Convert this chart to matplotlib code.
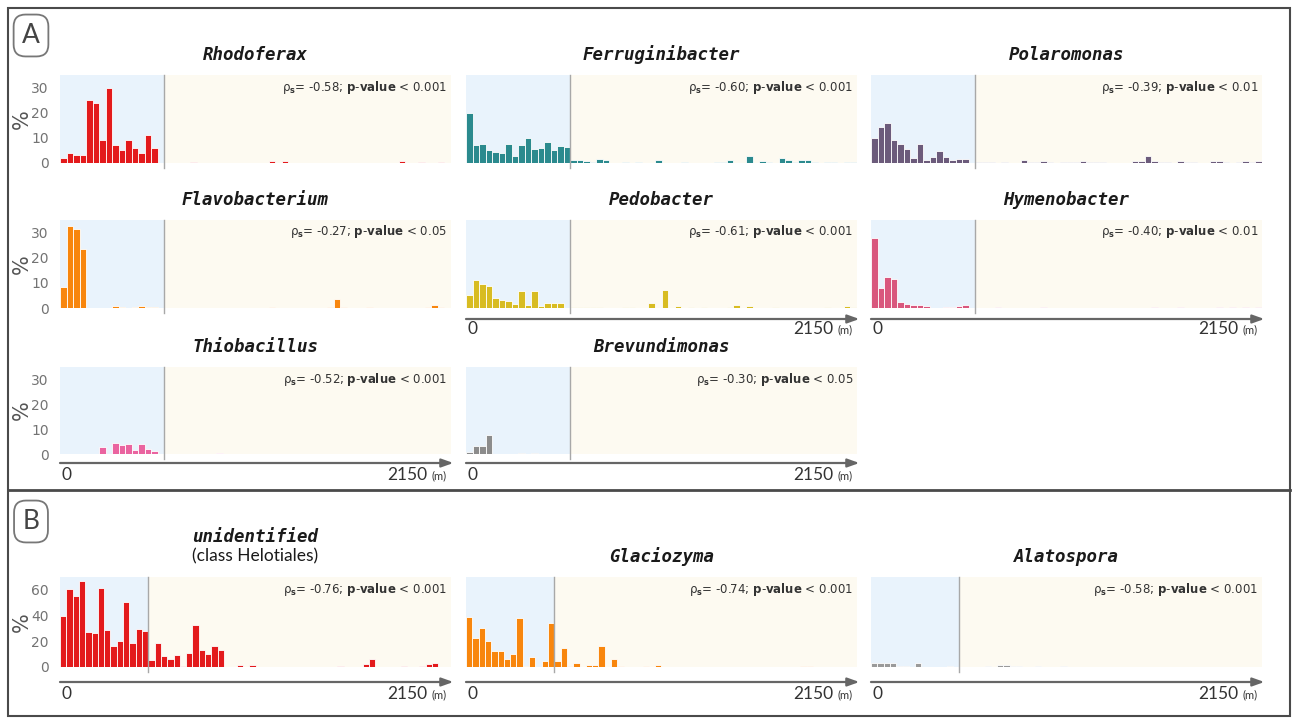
import matplotlib.pyplot as plt
from matplotlib.patches import Rectangle
from matplotlib.lines import Line2D

# relative abundance (%) per sample along the chronosequence, 0 -> 2150 m
rhodoferax = [2, 4, 3, 3, 25, 24, 9, 30, 7, 5,
              9, 6, 4, 11, 6, 0, 0, 0, 0, 0,
              0.3, 0, 0, 0, 0, 0, 0, 0, 0, 0,
              0, 0, 0.8, 0, 0.8, 0, 0, 0, 0, 0,
              0, 0, 0, 0, 0, 0, 0, 0, 0, 0,
              0, 0, 0.6, 0, 0, 0.3, 0, 0, 0.3, 0]
ferruginibacter = [20, 7.1, 7.4, 5.3, 4.2, 4, 7.4, 2.6, 7.1, 9.9,
                   5.5, 5.9, 8.2, 5.1, 6.7, 6.2, 1, 1.2, 0.6, 0.5,
                   1.5, 1, 0, 0, 0.5, 0, 0.5, 0, 0, 1.2,
                   0, 0, 0, 0.3, 0, 0, 0, 0, 0.3, 0.5,
                   1, 0, 0, 2.7, 0, 0.7, 0.3, 0, 2, 1,
                   0.5, 1, 1.2, 0.4, 0, 0.4, 0.3, 0, 0.5, 0.5]
polaromonas = [9.9, 14.5, 15.8, 9.3, 7.4, 5.5, 2.1, 7.5, 1, 2.4,
               4.6, 2.4, 1.3, 1.6, 1.6, 0, 0.2, 0.2, 0.2, 0,
               0.2, 0, 0, 1.2, 0.4, 0.4, 0.8, 0.3, 0, 0.3,
               0.3, 0.3, 0.9, 0.5, 0.4, 0.2, 0, 0, 0, 0,
               0.6, 0.8, 2.8, 0.6, 0.5, 0.4, 0, 0.8, 0.4, 0.2,
               0, 0, 0.9, 0.6, 0.5, 0, 0.4, 0.9, 0.4, 0.6]
flavobacterium = [8.2, 32.6, 31.6, 23.4, 0.1, 0.1, 0.1, 0.1, 0.8, 0.2,
                  0, 0.5, 0.8, 0.5, 0.3, 0, 0, 0.1, 0.1, 0,
                  0, 0, 0, 0, 0, 0, 0, 0, 0, 0,
                  0, 0, 0.3, 0, 0, 0, 0, 0, 0, 0,
                  0, 0.5, 3.5, 0.5, 0, 0, 0, 0.3, 0, 0,
                  0, 0, 0, 0, 0, 0, 0.4, 1.2, 0.3, 0]
pedobacter = [5, 11.2, 9.5, 8.7, 3.9, 3, 2.9, 1.6, 6.6, 1,
              6.6, 0.8, 2, 2, 2, 0, 0.2, 0.2, 0.2, 0.2,
              0.2, 0, 0, 0, 0.4, 0.4, 0, 0, 2, 0,
              7, 0, 0.6, 0, 0.5, 0, 0.2, 0, 0, 0,
              0.5, 1.2, 0, 0.6, 0, 0, 0, 0.3, 0, 0,
              0, 0, 0, 0, 0, 0.3, 0, 0, 0.6, 0.3]
hymenobacter = [27.9, 7.9, 12.4, 11.7, 2.4, 1.7, 1, 1.3, 0.8, 0,
                0, 0.5, 0.5, 0.6, 1.3, 0, 0, 0, 0, 0.2,
                0, 0, 0, 0, 0, 0, 0.2, 0, 0, 0,
                0, 0, 0, 0, 0, 0, 0, 0, 0, 0,
                0, 0, 0, 0.3, 0, 0, 0, 0.2, 0, 0,
                0, 0, 0, 0.3, 0, 0.3, 0, 0.2, 0, 0.3]
thiobacillus = [0, 0.2, 0, 0, 0, 0, 3, 0, 4.5, 3.7,
                4, 1.5, 4, 2.2, 1.2, 0, 0, 0, 0.2, 0,
                0, 0, 0, 0, 0.3, 0, 0, 0, 0, 0,
                0, 0, 0, 0, 0, 0, 0, 0, 0, 0,
                0, 0, 0, 0, 0, 0, 0, 0, 0, 0,
                0, 0, 0, 0, 0, 0, 0, 0, 0, 0]
brevundimonas = [0.8, 3.2, 3.2, 7.6, 0, 0, 0, 0, 0.3, 0,
                 0.3, 0, 0, 0, 0, 0, 0, 0, 0, 0,
                 0, 0, 0, 0, 0, 0, 0, 0, 0, 0,
                 0, 0, 0, 0, 0, 0, 0, 0, 0, 0,
                 0, 0, 0, 0, 0, 0, 0, 0, 0, 0,
                 0, 0, 0, 0, 0, 0, 0, 0.2, 0, 0]
helotiales = [39.7, 60.8, 55.3, 66.8, 27.2, 26.1, 61.6, 28.5, 16.7, 20.4,
              50.9, 18.8, 29.8, 27.9, 5.5, 18.3, 8.6, 6, 9.7, 0.5,
              10.7, 33, 13.6, 10.2, 16.7, 13.6, 0.3, 0, 1.3, 0,
              1.3, 0, 0, 0, 0.3, 0, 0, 0, 0, 0,
              0, 0, 0, 0, 0.5, 0, 0, 0, 2.6, 6.3,
              0, 0, 0, 0, 0.4, 0.3, 0, 0.6, 2, 3.5,
              0, 0]
glaciozyma = [39, 22.7, 30, 20, 12.8, 12.8, 6, 10.2, 38.4, 0.5,
              7.6, 0, 5, 34.5, 5, 15, 1, 3.4, 0, 1.8,
              1.8, 16.7, 0, 6, 0.8, 0, 0, 0, 0.8, 0,
              1.6, 0, 0, 0, 0, 0, 0, 0, 0, 0,
              0, 0, 0, 0, 0.3, 0, 0, 0, 0, 0,
              0, 0, 0, 0.6, 0.6, 0, 0, 0, 0, 0,
              0, 0]
alatospora = [3, 3, 3, 3, 1, 1, 0, 3.5, 0, 0,
              0, 0, 1, 0, 0, 0, 0, 0, 1, 0,
              1.2, 1.2, 0.8, 0.8, 0, 0, 0.5, 0, 0, 0,
              0.8, 0, 0, 0, 0, 0, 0, 0, 0, 0,
              0, 0, 0, 0, 0, 0, 0, 0, 0, 0,
              0, 0, 0, 0, 0, 0, 0, 0, 0, 0,
              0, 0]

rho = ['-0.58', '-0.60', '-0.39', '-0.27', '-0.61', '-0.40', '-0.52', '-0.30',
       '-0.76', '-0.74', '-0.58']
pval = ['0.001', '0.001', '0.01', '0.05', '0.001', '0.01', '0.001', '0.05',
        '0.001', '0.001', '0.001']
names = ['Rhodoferax', 'Ferruginibacter', 'Polaromonas', 'Flavobacterium',
         'Pedobacter', 'Hymenobacter', 'Thiobacillus', 'Brevundimonas',
         'unidentified', 'Glaciozyma', 'Alatospora']
colors = ['#e31a1c', '#2b8a8e', '#6c5b7b', '#f8860d', '#d8bc22', '#d9577d',
          '#ea64a0', '#8c8c8c', '#e31a1c', '#f8860d', '#9a9a9a']
series = [rhodoferax, ferruginibacter, polaromonas, flavobacterium, pedobacter,
          hymenobacter, thiobacillus, brevundimonas, helotiales, glaciozyma,
          alatospora]
n_forefield = [16] * 8 + [14] * 3   # samples inside the blue (young) zone

W, H = 1296, 719
fig = plt.figure(figsize=(W / 100, H / 100), dpi=100)

col_x = [60, 466, 871]
pw = 391
# (column, top px, height px, ymax, y ticks?, distance axis?)
layout = [(0, 75, 88, 35, True, False), (1, 75, 88, 35, False, False), (2, 75, 88, 35, False, False),
          (0, 220, 88, 35, True, False), (1, 220, 88, 35, False, True), (2, 220, 88, 35, False, True),
          (0, 367, 87, 35, True, True), (1, 367, 87, 35, False, True),
          (0, 577, 90, 70, True, True), (1, 577, 90, 70, False, True), (2, 577, 90, 70, False, True)]

title_font = dict(family='DejaVu Sans Mono', style='oblique', weight='bold', fontsize=12.5, color='#1a1a1a')

for i, (col, top, h, ymax, yt, arrow) in enumerate(layout):
    x = col_x[col]
    ax = fig.add_axes([x / W, 1 - (top + h) / H, pw / W, h / H])
    vals = series[i]
    n = len(vals)
    nb = n_forefield[i]
    ax.axvspan(-0.5, nb - 0.5, color='#e9f3fc', lw=0)
    ax.axvspan(nb - 0.5, n - 0.5, color='#fdfaf1', lw=0)
    ax.bar(range(n), vals, width=1.0, color=colors[i], edgecolor='white', linewidth=0.6, zorder=2)
    ax.plot([nb - 0.5, nb - 0.5], [-ymax * 0.06, ymax], color='#a8a8a8', lw=1, clip_on=False, zorder=3)
    ax.set_xlim(-0.5, n - 0.5)
    ax.set_ylim(0, ymax)
    for s in ax.spines.values():
        s.set_visible(False)
    ax.set_xticks([])
    if yt:
        step = 10 if ymax < 50 else 20
        ax.set_yticks(range(0, int(ymax) - 4, step))
        ax.tick_params(axis='y', length=0, pad=8, labelsize=10, labelcolor='#737373')
        ax.text(-38 / pw, 0.5, '%', rotation=90, transform=ax.transAxes, ha='center',
                va='center', fontsize=15, color='#555555')
    else:
        ax.set_yticks([])

    # titles
    if names[i] == 'unidentified':
        ax.text(0.5, 1 + 40 / h, names[i], transform=ax.transAxes, ha='center', va='center', **title_font)
        ax.text(0.5, 1 + 21 / h, '(class Helotiales)', transform=ax.transAxes, ha='center',
                va='center', fontsize=12.5, family='Lato', color='#1a1a1a')
    else:
        ax.text(0.5, 1 + 20 / h, names[i], transform=ax.transAxes, ha='center', va='center', **title_font)

    ax.text(0.99, 1 - 12 / h, r'ρ$_\mathbf{s}$= ' + rho[i] + r'; $\mathbf{p}$-$\mathbf{value}$ < ' + pval[i],
            transform=ax.transAxes, ha='right', va='center', fontsize=8.5, color='#333333')

    if arrow:
        gap = 15 if ymax > 50 else (11 if top < 300 else 9)
        lab = 27 if ymax > 50 else 21
        ya = -gap / h
        ax.annotate('', xy=(1.006, ya), xytext=(0, ya), xycoords='axes fraction',
                    arrowprops=dict(arrowstyle='-|>,head_length=0.7,head_width=0.25',
                                    color='#666666', lw=1.6, shrinkA=0, shrinkB=0))
        yl = -lab / h
        ax.text(0.004, yl, '0', transform=ax.transAxes, ha='left', va='center',
                fontsize=12.5, family='Lato', color='#333333')
        ax.text(0.94, yl, '2150', transform=ax.transAxes, ha='right', va='center',
                fontsize=12.5, family='Lato', color='#333333')
        ax.text(0.99, yl - 0.01, '(m)', transform=ax.transAxes, ha='right', va='center',
                fontsize=8, family='Lato', color='#333333')

# frames around the two sections
fig.add_artist(Rectangle((8 / W, 1 - 716 / H), 1282 / W, 708 / H, transform=fig.transFigure,
                         fill=False, ec='#4a4a4a', lw=1.5))
fig.add_artist(Line2D([8 / W, 1290 / W], [1 - 490 / H, 1 - 490 / H], transform=fig.transFigure,
                      color='#4a4a4a', lw=2))

for lab, yc in [('A', 35.5), ('B', 521.5)]:
    fig.text(31 / W, 1 - yc / H, lab, ha='center', va='center', fontsize=19, family='Lato',
             color='#444444',
             bbox=dict(boxstyle='round,pad=0.32,rounding_size=0.45', fc='white', ec='#777777', lw=1.3))

fig.savefig('out.png', dpi=100)
